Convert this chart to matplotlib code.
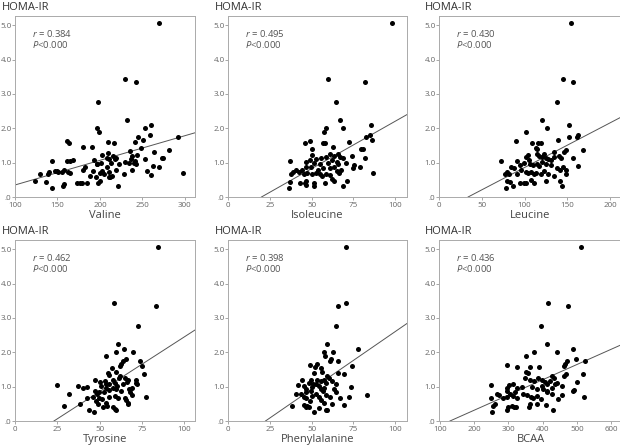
import numpy as np
import matplotlib
matplotlib.use("Agg")
import matplotlib.pyplot as plt
from matplotlib.ticker import FuncFormatter

plt.rcParams['font.family'] = ['Open Sans', 'DejaVu Sans']
plt.rcParams['mathtext.fontset'] = 'custom'
plt.rcParams['mathtext.it'] = 'Open Sans:italic'
plt.rcParams['mathtext.rm'] = 'Open Sans'

# (amino acid, HOMA-IR) pairs
valine = np.array([
    [270, 5.08], [229, 3.44], [243, 3.34], [198, 2.77], [232, 2.23], [197, 2.02], [199, 1.88],
    [260, 2.10], [253, 2.00], [259, 1.80], [292, 1.74], [245, 1.74], [251, 1.67], [161, 1.63],
    [164, 1.57], [180, 1.45], [191, 1.46], [209, 1.59], [217, 1.58], [241, 1.60], [248, 1.42],
    [281, 1.37], [235, 1.33], [264, 1.30], [203, 1.22], [210, 1.27], [215, 1.18], [219, 1.13],
    [238, 1.20], [244, 1.22], [237, 1.12], [241, 1.05], [273, 1.13], [253, 1.10], [143, 1.04],
    [161, 1.05], [165, 1.04], [168, 1.07], [193, 1.08], [197, 0.97], [201, 1.00], [208, 1.15],
    [211, 1.10], [208, 0.86], [183, 0.86], [180, 0.80], [192, 0.76], [196, 0.95], [203, 0.75],
    [213, 0.98], [218, 1.12], [223, 0.97], [229, 1.02], [234, 0.98], [238, 0.80], [240, 1.00],
    [243, 0.97], [228, 0.68], [219, 0.78], [200, 0.70], [205, 0.68], [211, 0.72], [214, 0.62],
    [212, 0.58], [195, 0.58], [188, 0.60], [151, 0.72], [139, 0.68], [129, 0.67], [147, 0.75],
    [150, 0.77], [155, 0.73], [158, 0.78], [165, 0.70], [163, 0.74], [137, 0.44], [124, 0.47],
    [143, 0.25], [158, 0.38], [157, 0.33], [173, 0.40], [177, 0.41], [179, 0.42], [185, 0.40],
    [198, 0.42], [200, 0.46], [211, 0.57], [221, 0.31], [256, 0.76], [260, 0.63], [262, 0.90],
    [270, 0.87], [274, 1.13], [298, 0.70], [140, 0.72],
])

isoleucine = np.array([
    [97.8, 5.08], [59.8, 3.44], [81.6, 3.34], [64.8, 2.77], [67, 2.23], [69, 2.00], [58.4, 2.02],
    [57.6, 1.88], [85.6, 2.10], [85, 1.80], [82.4, 1.74], [86.2, 1.67], [72.6, 1.60], [49, 1.62],
    [46, 1.57], [56.8, 1.57], [58, 1.57], [50.4, 1.39], [62.8, 1.46], [79.8, 1.39], [80.8, 1.41],
    [50.4, 1.23], [55.6, 1.15], [58.4, 1.17], [61, 1.26], [63.4, 1.20], [65.6, 1.24], [67.2, 1.17],
    [68.6, 1.15], [74.4, 1.20], [81.6, 1.15], [36.8, 1.05], [46.8, 1.03], [48.8, 1.07], [51.4, 0.99],
    [52.4, 1.11], [55, 0.95], [59.6, 0.99], [62.4, 1.07], [65, 1.02], [66, 0.95], [70.4, 1.00],
    [75.4, 0.93], [75, 0.84], [79, 0.87], [46.8, 0.87], [49.4, 0.87], [54, 0.78], [57, 0.83],
    [60.8, 0.85], [63.6, 0.87], [67.4, 0.78], [44.4, 0.78], [42.4, 0.73], [45.2, 0.68], [47.4, 0.71],
    [50, 0.68], [52.4, 0.71], [38.8, 0.72], [37.6, 0.68], [40.4, 0.78], [55, 0.68], [56, 0.60],
    [58.8, 0.68], [60.8, 0.63], [62, 0.53], [63.4, 0.46], [65.4, 0.75], [66.4, 0.70], [86.8, 0.69],
    [37.2, 0.44], [43, 0.41], [46, 0.41], [46.4, 0.46], [51.2, 0.41], [58, 0.41], [51.6, 0.31],
    [36.4, 0.26], [68.8, 0.31], [71, 0.47], [46.4, 0.36],
])

leucine = np.array([
    [154, 5.08], [145, 3.44], [157, 3.34], [137.5, 2.77], [120, 2.23], [126.5, 2.00], [101.5, 1.88],
    [152, 2.10], [152, 1.75], [161, 1.75], [163, 1.80], [139, 1.67], [90, 1.62], [108.7, 1.57],
    [115.4, 1.57], [119, 1.57], [113, 1.44], [115, 1.41], [168.8, 1.38], [148, 1.36], [146, 1.31],
    [134, 1.31], [115, 1.26], [117, 1.20], [121, 1.17], [123, 1.26], [125.3, 1.15], [128, 1.12],
    [131, 1.07], [134, 1.17], [140, 1.20], [143, 1.15], [157, 1.15], [103.5, 1.21], [101.5, 1.17],
    [105.5, 1.07], [72.7, 1.05], [91, 1.05], [99.6, 0.99], [95, 0.92], [106.7, 0.97], [110, 0.92],
    [114.6, 0.95], [117, 0.90], [121, 1.02], [125, 0.97], [131, 0.92], [138, 0.83], [145, 0.87],
    [148, 0.78], [163, 0.90], [84, 0.87], [87.7, 0.83], [79, 0.73], [82, 0.68], [76.7, 0.68],
    [91, 0.68], [95.6, 0.78], [101.5, 0.73], [104, 0.70], [108, 0.72], [111.5, 0.66], [114, 0.70],
    [119, 0.68], [123, 0.75], [128, 0.66], [135, 0.60], [141, 0.78], [148, 0.68], [80, 0.46],
    [83, 0.44], [95, 0.41], [99, 0.41], [101.5, 0.41], [111.5, 0.41], [125, 0.46], [142, 0.46],
    [78.7, 0.26], [86, 0.31], [144, 0.32], [107, 0.49],
])

tyrosine = np.array([
    [84.2, 5.08], [58.2, 3.44], [83, 3.34], [72.7, 2.77], [60.8, 2.23], [64.2, 2.10], [59.8, 2.02],
    [69.7, 2.00], [53.5, 1.88], [65.3, 1.80], [63.8, 1.75], [74, 1.75], [62.8, 1.67], [75.2, 1.60],
    [61.8, 1.60], [57.4, 1.55], [59.4, 1.44], [54.8, 1.41], [76, 1.38], [62.2, 1.31], [55.8, 1.34],
    [64.8, 1.26], [61.4, 1.24], [57.8, 1.20], [66.7, 1.20], [71.3, 1.20], [47.5, 1.20], [52.9, 1.17],
    [53.9, 1.09], [71.7, 1.12], [66, 1.15], [58.8, 1.12], [55.8, 1.07], [50.3, 1.15], [24.8, 1.05],
    [37, 1.02], [40, 0.95], [42.4, 0.99], [51, 1.02], [53.5, 0.97], [57.8, 0.97], [60.2, 1.02],
    [63.8, 1.07], [69.3, 0.97], [72.3, 1.09], [47.3, 0.87], [49.9, 0.83], [52.3, 0.83], [55.8, 0.89],
    [59.4, 0.92], [62.8, 0.87], [67.3, 0.92], [67.7, 0.83], [32, 0.80], [42.4, 0.68], [45.9, 0.70],
    [48.3, 0.78], [49.5, 0.68], [51.5, 0.63], [55.8, 0.70], [58.8, 0.73], [60.8, 0.68], [64.8, 0.68],
    [65.7, 0.61], [66.7, 0.53], [69.3, 0.76], [77.6, 0.70], [47.9, 0.58], [53.9, 0.53], [28.7, 0.44],
    [38.6, 0.49], [51.9, 0.41], [54.3, 0.44], [57.8, 0.41], [58.8, 0.36], [59.8, 0.31], [43.6, 0.31],
    [46.5, 0.26], [66.7, 0.49], [48.9, 0.49],
])

phenylalanine = np.array([
    [70.8, 5.08], [70.4, 3.44], [66, 3.34], [64.8, 2.77], [59.4, 2.23], [77.8, 2.10], [57.4, 2.02],
    [62.8, 2.02], [57.8, 1.88], [61.4, 1.80], [60.8, 1.75], [65.6, 1.75], [74.4, 1.60], [49, 1.62],
    [53.4, 1.67], [55.4, 1.55], [52, 1.57], [56.4, 1.44], [51.4, 1.41], [66, 1.41], [69.4, 1.38],
    [59.4, 1.31], [60.4, 1.26], [44.4, 1.20], [49.4, 1.20], [53.4, 1.20], [55.4, 1.17], [57.4, 1.20],
    [62.4, 1.17], [48.4, 1.12], [50.8, 1.09], [52.4, 1.07], [58.4, 1.12], [64.4, 1.07], [41.6, 1.05],
    [45.4, 1.02], [50.4, 0.99], [54.4, 1.02], [57.4, 0.95], [73.8, 0.99], [46.4, 0.92], [49.4, 0.87],
    [55.4, 0.92], [56.8, 0.87], [63.4, 0.92], [64.4, 0.83], [40.4, 0.78], [43.4, 0.78], [46.4, 0.83],
    [50, 0.73], [52.4, 0.78], [54.4, 0.70], [58.4, 0.75], [60.8, 0.70], [66.8, 0.68], [72.4, 0.70],
    [83, 0.76], [45.4, 0.70], [46.8, 0.68], [55.4, 0.60], [57.4, 0.53], [62, 0.49], [48.8, 0.58],
    [38.4, 0.44], [45.4, 0.46], [46.4, 0.41], [48.4, 0.41], [69.4, 0.46], [58.4, 0.31], [59.4, 0.31],
    [51.6, 0.26], [54.4, 0.39], [47.4, 0.44],
])

bcaa = np.array([
    [512, 5.08], [416, 3.44], [473, 3.34], [394, 2.77], [412, 2.23], [490, 2.10], [376, 2.02],
    [441, 2.00], [351, 1.88], [498, 1.80], [525, 1.74], [470, 1.74], [466, 1.67], [461, 1.60],
    [295, 1.62], [324, 1.57], [363, 1.57], [388, 1.57], [351, 1.44], [358, 1.40], [519, 1.38],
    [467, 1.36], [461, 1.31], [427, 1.31], [386, 1.26], [349, 1.24], [363, 1.20], [376, 1.17],
    [397, 1.20], [407, 1.15], [412, 1.09], [422, 1.17], [433, 1.24], [441, 1.12], [500, 1.15],
    [249, 1.05], [303, 1.05], [314, 1.07], [295, 0.97], [326, 0.95], [339, 0.99], [368, 0.99],
    [383, 0.92], [397, 1.02], [402, 0.92], [412, 0.87], [427, 0.97], [436, 1.07], [490, 0.87],
    [493, 0.91], [456, 1.02], [295, 0.87], [305, 0.78], [319, 0.83], [266, 0.80], [271, 0.76],
    [250, 0.68], [283, 0.68], [295, 0.70], [313, 0.73], [324, 0.68], [344, 0.78], [353, 0.76],
    [365, 0.70], [373, 0.68], [383, 0.73], [394, 0.63], [414, 0.83], [427, 0.80], [446, 0.63],
    [456, 0.76], [521, 0.69], [256, 0.44], [261, 0.49], [300, 0.41], [310, 0.44], [315, 0.41],
    [322, 0.41], [361, 0.41], [363, 0.49], [383, 0.50], [410, 0.47], [251, 0.26], [295, 0.31],
    [429, 0.31],
])

names = ["Valine", "Isoleucine", "Leucine", "Tyrosine", "Phenylalanine", "BCAA"]
datasets = [valine, isoleucine, leucine, tyrosine, phenylalanine, bcaa]
r_values = ["0.384", "0.495", "0.430", "0.462", "0.398", "0.436"]
# fitted line, two points
fit_lines = [
    ((100, 0.35), (312, 1.87)),
    ((20, 0.0), (107, 2.40)),
    ((34, 0.0), (214, 2.34)),
    ((23, 0.0), (106, 2.64)),
    ((22.4, 0.0), (107, 2.84)),
    ((129, 0.0), (621, 2.18)),
]
x_limits = [(100, 312), (0, 107), (0, 214), (0, 106.3), (0, 107), (97, 632)]
x_ticks = [np.arange(100, 301, 50), np.arange(0, 101, 25), np.arange(0, 201, 50),
           np.arange(0, 101, 25), np.arange(0, 101, 25), np.arange(100, 601, 100)]
y_ticks = [0, 1, 2, 3, 4, 5]

W, H = 620, 448
fig = plt.figure(figsize=(W / 100, H / 100), dpi=100)

# axes boxes in pixels: left, right, top, bottom
col_px = [(15, 195), (228, 407), (439, 622)]
row_px = [(16, 197), (240, 421)]


def ylab(v, pos):
    s = "%.1f" % v
    return s[1:] if s.startswith("0") else s


grey = "#666666"
for i, (name, d) in enumerate(zip(names, datasets)):
    l, r = col_px[i % 3]
    t, b = row_px[i // 3]
    ax = fig.add_axes([l / W, 1 - b / H, (r - l) / W, (b - t) / H])
    ax.scatter(d[:, 0], d[:, 1], s=13, color="black", linewidths=0, zorder=3)
    p0, p1 = fit_lines[i]
    ax.axline(p0, p1, color="#555555", lw=0.7, zorder=2)
    ax.set_xlim(*x_limits[i])
    ax.set_ylim(0, 5.27)
    ax.set_xticks(x_ticks[i])
    ax.set_yticks(y_ticks)
    ax.yaxis.set_major_formatter(FuncFormatter(ylab))
    ax.tick_params(length=2, width=0.6, color="#999999", labelcolor=grey, labelsize=5.8)
    ax.tick_params(axis="y", pad=0.5)
    ax.tick_params(axis="x", pad=1.5)
    for s in ax.spines.values():
        s.set_color("#aaaaaa")
        s.set_linewidth(0.7)
    ax.set_xlabel(name, fontsize=8, color="#444444", labelpad=0.5)
    ax.text(-0.075, 1.045, "HOMA-IR", transform=ax.transAxes, fontsize=8,
            color="#333333", va="center", ha="left")
    ax.text(0.095, 0.905, "$\\it{r}$ = " + r_values[i], transform=ax.transAxes,
            fontsize=6.8, color="#555555", va="center")
    ax.text(0.095, 0.84, "$\\it{P}$<0.000", transform=ax.transAxes,
            fontsize=6.8, color="#555555", va="center")

fig.savefig("out.png", dpi=100)
